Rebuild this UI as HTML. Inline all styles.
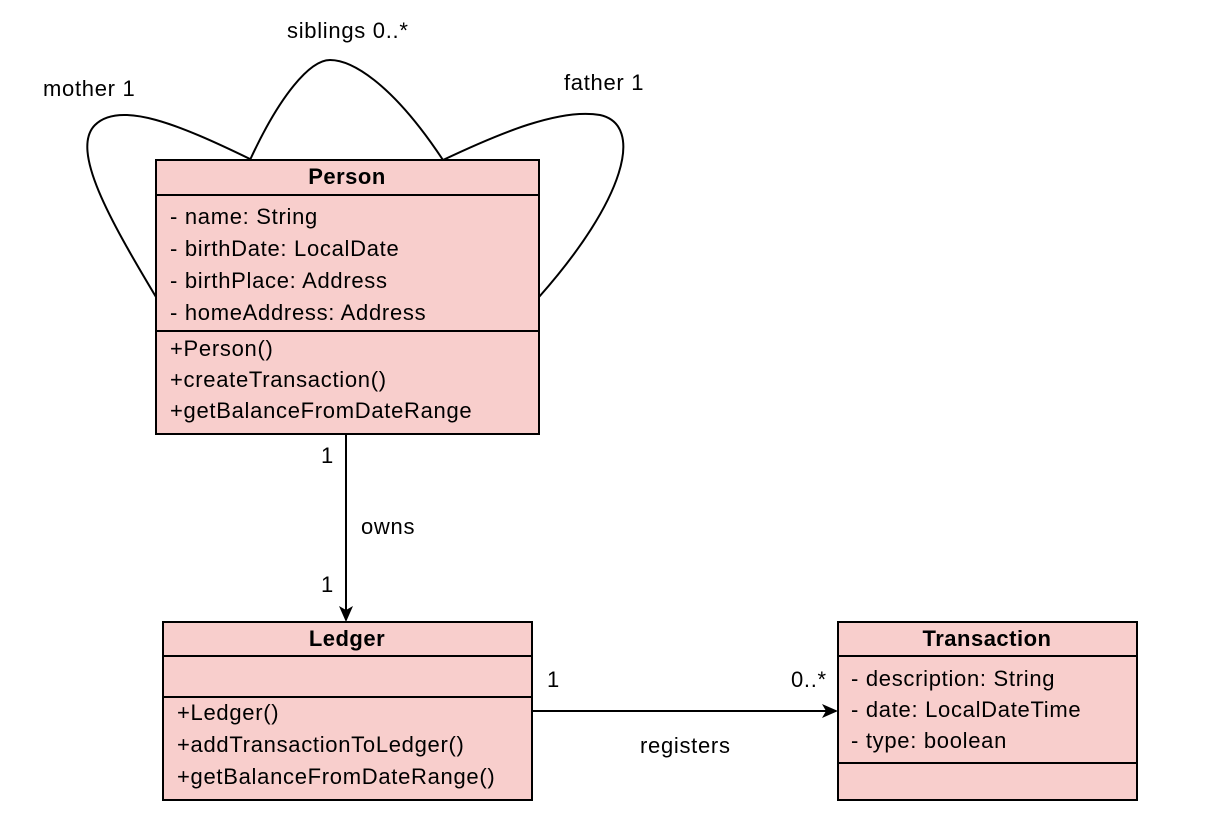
<!DOCTYPE html>
<html><head><style>
body{margin:0;background:#fff;}
svg{display:block;}
text{font-family:"Liberation Sans",Arial,sans-serif;font-size:22px;letter-spacing:0.7px;fill:#000;}
.b{font-weight:bold;letter-spacing:0.5px;}
</style></head><body>
<svg width="1215" height="817" viewBox="0 0 1215 817">
<defs><marker id="a" markerWidth="16" markerHeight="16" refX="14" refY="8" orient="auto" markerUnits="userSpaceOnUse"><path d="M0,1 L16,8 L0,15 L4,8 Z" fill="#000"/></marker></defs>
<g fill="none" stroke="#000" stroke-width="2">
<path d="M156,297 C110,220 70,150 95,125 C120,100 180,125 250,159"/>
<path d="M250,160 C280,95 310,60 330,60 C350,60 390,80 443,160"/>
<path d="M443,160 C500,133 560,108 600,115 C645,125 625,200 539,297"/>
</g>
<g fill="#f8cecc" stroke="#000" stroke-width="2">
<rect x="156" y="160" width="383" height="274"/>
<rect x="163" y="622" width="369" height="178"/>
<rect x="838" y="622" width="299" height="178"/>
</g>
<g stroke="#000" stroke-width="2">
<line x1="156" y1="195" x2="539" y2="195"/>
<line x1="156" y1="331" x2="539" y2="331"/>
<line x1="163" y1="656" x2="532" y2="656"/>
<line x1="163" y1="697" x2="532" y2="697"/>
<line x1="838" y1="656" x2="1137" y2="656"/>
<line x1="838" y1="763" x2="1137" y2="763"/>
<line x1="346" y1="434" x2="346" y2="620" marker-end="url(#a)"/>
<line x1="532" y1="711" x2="836" y2="711" marker-end="url(#a)"/>
</g>
<text x="43" y="96">mother 1</text>
<text x="287" y="38">siblings 0..*</text>
<text x="564" y="90">father 1</text>
<text class="b" x="347" y="184" text-anchor="middle">Person</text>
<text x="170" y="224">- name: String</text>
<text x="170" y="256">- birthDate: LocalDate</text>
<text x="170" y="288">- birthPlace: Address</text>
<text x="170" y="320">- homeAddress: Address</text>
<text x="170" y="356">+Person()</text>
<text x="170" y="387">+createTransaction()</text>
<text x="170" y="418">+getBalanceFromDateRange</text>
<text x="321" y="463">1</text>
<text x="361" y="534">owns</text>
<text x="321" y="592">1</text>
<text class="b" x="347" y="646" text-anchor="middle">Ledger</text>
<text x="177" y="720">+Ledger()</text>
<text x="177" y="752">+addTransactionToLedger()</text>
<text x="177" y="784">+getBalanceFromDateRange()</text>
<text x="547" y="687">1</text>
<text x="791" y="687">0..*</text>
<text x="640" y="753">registers</text>
<text class="b" x="987" y="646" text-anchor="middle">Transaction</text>
<text x="851" y="686">- description: String</text>
<text x="851" y="717">- date: LocalDateTime</text>
<text x="851" y="748">- type: boolean</text>
</svg>
</body></html>
